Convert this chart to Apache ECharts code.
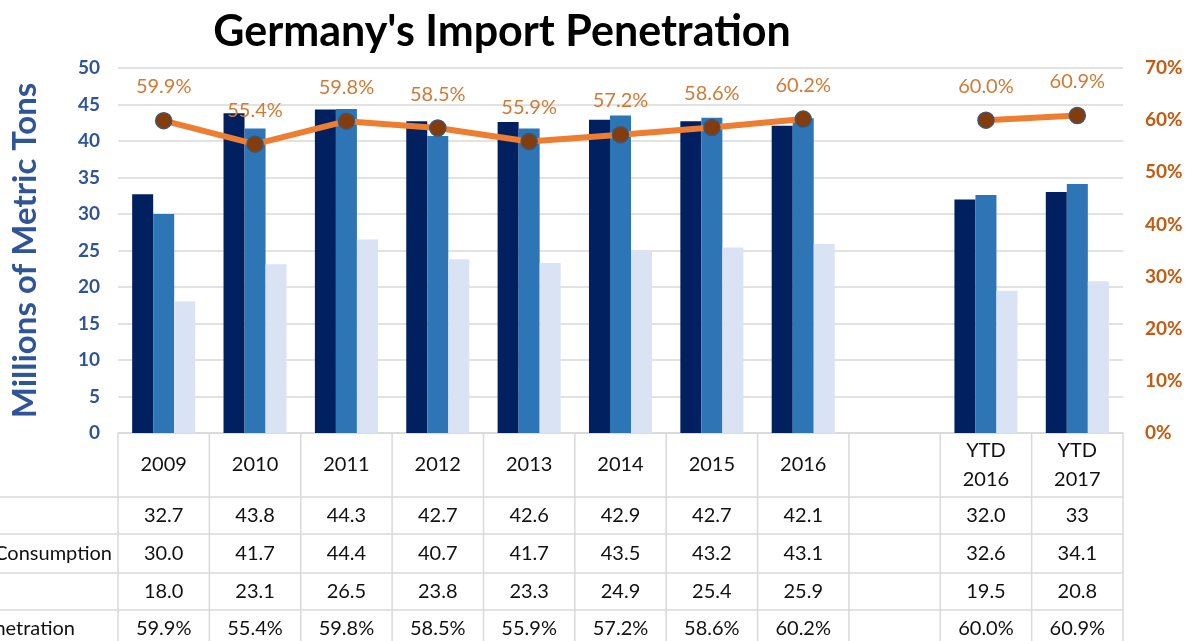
<!DOCTYPE html>
<html>
<head>
<meta charset="utf-8">
<script src="https://cdn.jsdelivr.net/npm/echarts@6/dist/echarts.min.js"></script>
<style>
  html, body { margin: 0; padding: 0; background: #fff; }
  #main { width: 1189px; height: 641px; }
</style>
</head>
<body>
<div id="main"></div>
<script>
// categories (blank slot separates full years from YTD)
var categories = ['2009', '2010', '2011', '2012', '2013', '2014', '2015', '2016', '', 'YTD\n2016', 'YTD\n2017'];

// table rows as printed, bars read from these
var importsTxt     = ['32.7', '43.8', '44.3', '42.7', '42.6', '42.9', '42.7', '42.1', '', '32.0', '33'];
var consumptionTxt = ['30.0', '41.7', '44.4', '40.7', '41.7', '43.5', '43.2', '43.1', '', '32.6', '34.1'];
var thirdTxt       = ['18.0', '23.1', '26.5', '23.8', '23.3', '24.9', '25.4', '25.9', '', '19.5', '20.8'];
var penetration    = [59.9, 55.4, 59.8, 58.5, 55.9, 57.2, 58.6, 60.2, null, 60.0, 60.9];

var rowLabels = ['', 'Apparent Consumption', '', 'Import Penetration'];

var leftTicks = { min: 0, max: 50, interval: 5 };
var rightTicks = { min: 0, max: 70, interval: 10 };

function toNum(arr) {
  return arr.map(function (s) { return s === '' ? null : Number(s); });
}
function pct(v) {
  return v == null ? '' : v.toFixed(1) + '%';
}

var FONT = 'Lato';
var chart = echarts.init(document.getElementById('main'));

var gridL = 118, gridR = 66, gridT = 68, gridB = 208;

var option = {
  animation: false,
  textStyle: { fontFamily: FONT },
  title: {
    text: "Germany's Import Penetration",
    left: 497,
    textAlign: 'center',
    top: 6,
    textStyle: { fontFamily: FONT, fontWeight: 'bold', fontSize: 43, color: '#000' }
  },
  grid: { left: gridL, right: gridR, top: gridT, bottom: gridB },
  xAxis: {
    type: 'category',
    data: categories,
    axisLabel: { show: false },
    axisTick: { show: false },
    axisLine: { lineStyle: { color: '#D9D9D9', width: 1.5 } }
  },
  yAxis: [
    {
      type: 'value',
      min: leftTicks.min, max: leftTicks.max, interval: leftTicks.interval,
      name: 'Millions of Metric Tons',
      nameLocation: 'middle',
      nameRotate: 90,
      nameGap: 76,
      nameTextStyle: { fontFamily: FONT, fontWeight: 'bold', fontSize: 33, color: '#2F5597' },
      axisLabel: { margin: 18, fontSize: 19, fontWeight: 'bold', color: '#2F5597' },
      splitLine: { lineStyle: { color: '#D9D9D9', width: 1.5 } },
      axisLine: { show: false },
      axisTick: { show: false }
    },
    {
      type: 'value',
      min: rightTicks.min, max: rightTicks.max, interval: rightTicks.interval,
      axisLabel: { margin: 22, fontSize: 19, fontWeight: 'bold', color: '#C55A11', formatter: '{value}%' },
      splitLine: { show: false },
      axisLine: { show: false },
      axisTick: { show: false }
    }
  ],
  series: [
    {
      type: 'bar', data: toNum(importsTxt), barGap: '0%', barCategoryGap: '31%',
      itemStyle: { color: '#002060' }
    },
    {
      type: 'bar', data: toNum(consumptionTxt),
      itemStyle: { color: '#2E75B6' }
    },
    {
      type: 'bar', data: toNum(thirdTxt),
      itemStyle: { color: '#DAE3F3' }
    },
    {
      type: 'line', yAxisIndex: 1, data: penetration,
      symbol: 'circle', symbolSize: 16,
      lineStyle: { color: '#ED7D31', width: 6 },
      itemStyle: { color: '#843C0C', borderColor: '#44546A', borderWidth: 1.5 },
      label: {
        show: true, position: 'top', distance: 15,
        fontSize: 20, color: '#D27A35',
        formatter: function (p) { return pct(p.value); }
      },
      z: 5
    }
  ]
};

chart.setOption(option);

// data table under the plot, aligned to the category axis
var top0 = 641 - gridB;
var rowY = [top0, 497, 534, 573, 610, 648];
var colW = (1189 - gridL - gridR) / categories.length;
var lineColor = '#D9D9D9';
var els = [];
var rows = [importsTxt, consumptionTxt, thirdTxt, penetration.map(pct)];

for (var c = 0; c <= categories.length; c++) {
  var x = gridL + c * colW;
  els.push({ type: 'line', shape: { x1: x, y1: top0, x2: x, y2: 641 }, style: { stroke: lineColor, lineWidth: 1.5 } });
}
for (var r = 1; r < rowY.length - 1; r++) {
  els.push({ type: 'line', shape: { x1: 0, y1: rowY[r], x2: gridL + categories.length * colW, y2: rowY[r] }, style: { stroke: lineColor, lineWidth: 1.5 } });
}
categories.forEach(function (cat, i) {
  var cx = chart.convertToPixel({ xAxisIndex: 0 }, i);
  els.push({
    type: 'text', x: cx, y: (rowY[0] + rowY[1]) / 2,
    style: { text: cat, fontFamily: FONT, fontSize: 20, fill: '#111', align: 'center', verticalAlign: 'middle', lineHeight: 29 }
  });
  rows.forEach(function (row, r) {
    els.push({
      type: 'text', x: cx, y: (rowY[r + 1] + rowY[r + 2]) / 2,
      style: { text: row[i], fontFamily: FONT, fontSize: 20, fill: '#111', align: 'center', verticalAlign: 'middle' }
    });
  });
});
var labelEnds = [112, 112, 112, 75];
rowLabels.forEach(function (lab, r) {
  els.push({
    type: 'text', x: labelEnds[r], y: (rowY[r + 1] + rowY[r + 2]) / 2,
    style: { text: lab, fontFamily: FONT, fontSize: 20, fill: '#111', align: 'right', verticalAlign: 'middle' }
  });
});

chart.setOption({ graphic: { elements: els } });
</script>
</body>
</html>
